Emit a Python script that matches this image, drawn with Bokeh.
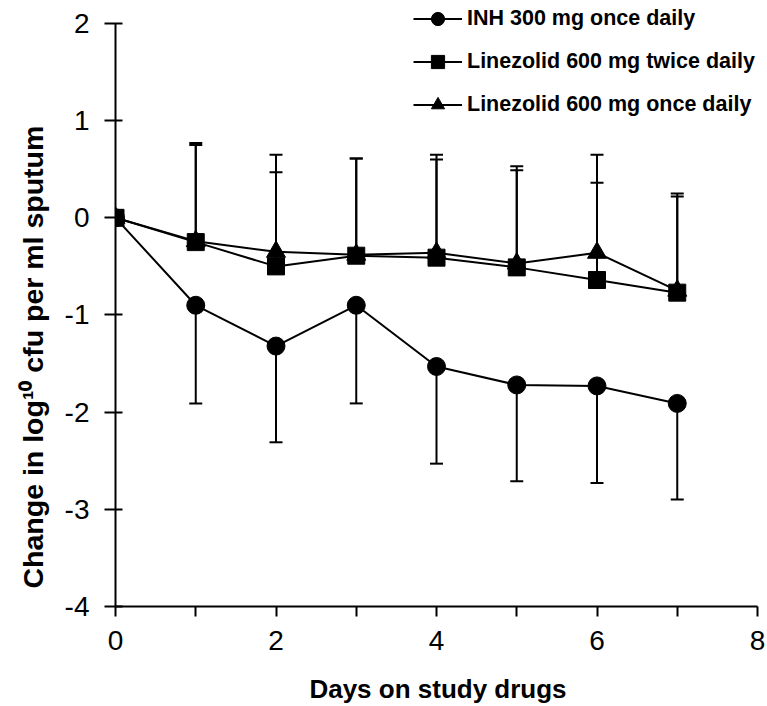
from bokeh.plotting import figure
from bokeh.models import (ColumnDataSource, Whisker, TeeHead, FixedTicker, Range1d,
                          Legend, LegendItem, Title)
from bokeh.embed import file_html
from bokeh.resources import INLINE

# ---- data ----
days = [0, 1, 2, 3, 4, 5, 6, 7]
inh_mean = [0.0, -0.90, -1.32, -0.90, -1.53, -1.72, -1.73, -1.91]
inh_sd = [0.0, 1.01, 0.99, 1.01, 1.00, 0.99, 1.00, 0.99]
lzd_bid_mean = [0.0, -0.25, -0.50, -0.39, -0.41, -0.51, -0.64, -0.77]
lzd_bid_sd = [0.0, 1.00, 0.97, 1.00, 1.01, 1.00, 1.00, 0.99]
lzd_qd_mean = [0.0, -0.24, -0.35, -0.38, -0.36, -0.47, -0.36, -0.75]
lzd_qd_sd = [0.0, 1.01, 1.00, 0.99, 1.01, 1.00, 1.01, 1.00]
series_labels = ["INH 300 mg once daily", "Linezolid 600 mg twice daily",
                 "Linezolid 600 mg once daily"]
x_ticks = [0, 2, 4, 6, 8]
x_minor = [1, 3, 5, 7]
y_ticks = [-4, -3, -2, -1, 0, 1, 2]
x_label = "Days on study drugs"
y_label = "Change in log\u00b9\u2070 cfu per ml sputum"

FONT = "Liberation Sans"

# The frame is a little larger than the axes' spans so that the legend (drawn inside
# the frame) is not clipped; the axes themselves are bounded to the data ranges.
X_LO, X_HI = 0, 8
Y_LO, Y_HI = -4, 2
FRAME_W, FRAME_H = 645, 606
X_PX, Y_PX = 80.25, 97.17
x_end = X_LO + FRAME_W / X_PX
y_end = Y_LO + FRAME_H / Y_PX

p = figure(frame_width=FRAME_W, frame_height=FRAME_H, min_border_left=115, min_border_top=0,
           min_border_right=7, min_border_bottom=100,
           x_range=Range1d(X_LO, x_end), y_range=Range1d(Y_LO, y_end),
           output_backend="svg", toolbar_location=None)
p.grid.visible = False
p.outline_line_color = None

def err_source(mean, sd, direction):
    xs, lo, hi = [], [], []
    for d, m, s in zip(days, mean, sd):
        if s > 0:
            xs.append(d)
            if direction < 0:
                lo.append(m - s); hi.append(m)
            else:
                lo.append(m); hi.append(m + s)
    return ColumnDataSource(dict(x=xs, lower=lo, upper=hi))

def add_whisker(src, up):
    head = TeeHead(size=13, line_width=2, line_color="black")
    w = Whisker(source=src, base="x", lower="lower", upper="upper", dimension="height",
                line_width=2, line_color="black",
                upper_head=head if up else None, lower_head=None if up else head)
    p.add_layout(w)

add_whisker(err_source(inh_mean, inh_sd, -1), False)
add_whisker(err_source(lzd_qd_mean, lzd_qd_sd, 1), True)
add_whisker(err_source(lzd_bid_mean, lzd_bid_sd, 1), True)

src_inh = ColumnDataSource(dict(x=days, y=inh_mean))
src_qd = ColumnDataSource(dict(x=days, y=lzd_qd_mean))
src_bid = ColumnDataSource(dict(x=days, y=lzd_bid_mean))

l_inh = p.line("x", "y", source=src_inh, line_color="black", line_width=2)
s_inh = p.scatter("x", "y", source=src_inh, marker="circle", size=18, color="black")
l_qd = p.line("x", "y", source=src_qd, line_color="black", line_width=2)
s_qd = p.scatter("x", "y", source=src_qd, marker="triangle", size=19, color="black")
l_bid = p.line("x", "y", source=src_bid, line_color="black", line_width=2)
s_bid = p.scatter("x", "y", source=src_bid, marker="square", size=17, color="black")

items = [LegendItem(label=series_labels[0], renderers=[l_inh, s_inh]),
         LegendItem(label=series_labels[1], renderers=[l_bid, s_bid]),
         LegendItem(label=series_labels[2], renderers=[l_qd, s_qd])]

legend = Legend(items=items, location=(298, 485), padding=0, margin=0,
                glyph_width=49, glyph_height=33, label_height=33, spacing=10,
                label_standoff=5, border_line_color=None, background_fill_alpha=0,
                label_text_font=FONT, label_text_font_style="bold",
                label_text_font_size="21.5px", label_text_color="black")
p.add_layout(legend, "center")

# axes
xa = p.xaxis[0]
xa.bounds = (X_LO, X_HI)
xa.ticker = FixedTicker(ticks=x_ticks, minor_ticks=x_minor)
xa.major_label_overrides = {t: str(t) for t in x_ticks}
xa.axis_line_width = 2
xa.major_tick_line_width = 2
xa.minor_tick_line_width = 2
xa.major_tick_out = 10
xa.major_tick_in = 0
xa.minor_tick_out = 10
xa.minor_tick_in = 0
xa.major_label_text_font = FONT
xa.major_label_text_font_size = "28px"
xa.major_label_text_color = "black"
xa.major_label_standoff = 14
xa.axis_label = x_label
xa.axis_label_text_font = FONT
xa.axis_label_text_font_style = "bold"
xa.axis_label_text_font_size = "26px"
xa.axis_label_text_color = "black"
xa.axis_label_standoff = 21

ya = p.yaxis[0]
ya.bounds = (Y_LO, Y_HI)
ya.ticker = FixedTicker(ticks=y_ticks, minor_ticks=[])
ya.major_label_overrides = {t: str(t) for t in y_ticks}
ya.axis_line_width = 2
ya.major_tick_line_width = 2
ya.major_tick_out = 11
ya.major_tick_in = 7
ya.major_label_text_font = FONT
ya.major_label_text_font_size = "28px"
ya.major_label_text_color = "black"
ya.major_label_standoff = 15

ytitle = Title(text=y_label, align="left", offset=18, standoff=26,
               text_font=FONT, text_font_style="bold", text_font_size="28.5px",
               text_color="black")
p.add_layout(ytitle, "left")

open("out.html", "w").write(file_html(p, INLINE))
